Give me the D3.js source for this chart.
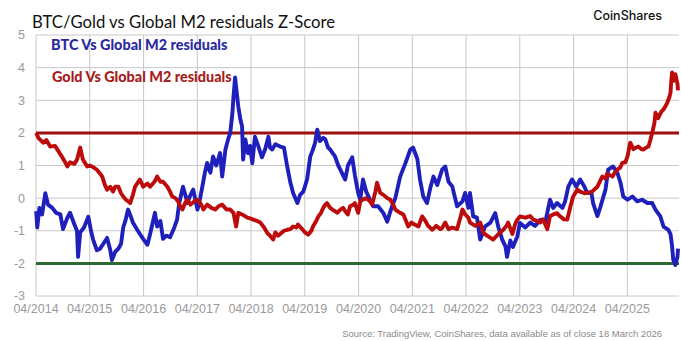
<!DOCTYPE html>
<html><head><meta charset="utf-8">
<script src="https://cdn.jsdelivr.net/npm/d3@7"></script>
<style>html,body{margin:0;padding:0;background:#fff;overflow:hidden}</style>
</head><body><svg id="c" width="681" height="341"></svg>
<script>
// ---- Data (decimal years, z-score values) ----
const btcT = [2014.25,2014.27,2014.31,2014.36,2014.42,2014.47,2014.55,2014.62,2014.70,2014.75,2014.83,2014.88,2014.96,2015.01,2015.03,2015.07,2015.14,2015.22,2015.27,2015.31,2015.38,2015.44,2015.50,2015.57,2015.63,2015.66,2015.72,2015.78,2015.83,2015.87,2015.91,2015.96,2016.02,2016.05,2016.13,2016.18,2016.24,2016.32,2016.37,2016.46,2016.50,2016.56,2016.61,2016.67,2016.74,2016.82,2016.87,2016.91,2016.98,2017.04,2017.06,2017.12,2017.17,2017.25,2017.30,2017.34,2017.39,2017.43,2017.49,2017.54,2017.60,2017.67,2017.71,2017.77,2017.82,2017.86,2017.90,2017.92,2017.95,2017.97,2018.01,2018.05,2018.08,2018.10,2018.14,2018.19,2018.23,2018.27,2018.32,2018.38,2018.45,2018.51,2018.57,2018.60,2018.64,2018.70,2018.79,2018.86,2018.92,2018.98,2019.03,2019.11,2019.16,2019.22,2019.29,2019.35,2019.40,2019.44,2019.48,2019.53,2019.59,2019.63,2019.68,2019.72,2019.81,2019.87,2019.91,2019.96,2020.00,2020.05,2020.13,2020.18,2020.24,2020.28,2020.33,2020.39,2020.46,2020.52,2020.61,2020.71,2020.78,2020.84,2020.87,2020.93,2021.02,2021.12,2021.21,2021.26,2021.34,2021.39,2021.45,2021.52,2021.58,2021.64,2021.71,2021.80,2021.86,2021.92,2021.99,2022.05,2022.08,2022.18,2022.23,2022.29,2022.32,2022.38,2022.45,2022.51,2022.60,2022.70,2022.79,2022.85,2022.92,2022.98,2023.01,2023.07,2023.12,2023.20,2023.25,2023.35,2023.44,2023.53,2023.63,2023.72,2023.81,2023.87,2023.94,2024.04,2024.09,2024.15,2024.22,2024.30,2024.37,2024.45,2024.50,2024.58,2024.61,2024.69,2024.74,2024.84,2024.89,2024.98,2025.06,2025.12,2025.17,2025.25,2025.34,2025.43,2025.52,2025.62,2025.71,2025.77,2025.86,2025.92,2026.01,2026.05,2026.08,2026.10,2026.14,2026.18,2026.19];
const btcZ = [-0.4,-0.9,-0.3,-0.5,0.15,-0.2,-0.3,-0.45,-0.5,-0.95,-0.6,-0.45,-0.8,-1.0,-1.8,-1.05,-0.9,-0.57,-1.0,-1.27,-1.6,-1.55,-1.4,-1.22,-1.6,-1.9,-1.65,-1.55,-1.4,-0.9,-0.7,-0.35,-0.6,-0.75,-0.97,-1.1,-1.25,-1.43,-1.1,-0.45,-0.87,-0.7,-1.25,-1.15,-1.2,-0.9,-0.66,-0.15,0.35,0.0,-0.15,0.1,0.26,-0.35,0.0,0.35,0.8,1.08,0.78,1.28,1.0,1.38,0.66,1.49,1.8,2.0,2.6,3.1,3.7,3.4,2.8,2.4,2.2,1.18,1.8,1.38,1.6,1.07,1.88,1.6,1.25,1.5,1.88,1.55,1.49,1.65,1.58,1.55,0.97,0.47,0.16,-0.15,0.1,0.2,0.57,1.28,1.49,1.7,2.1,1.75,1.85,1.8,1.55,1.49,1.28,1.0,0.87,0.7,0.57,1.0,1.25,0.7,0.16,-0.05,0.57,0.2,-0.05,-0.25,-0.25,-0.46,-0.72,-0.4,-0.25,0.0,0.66,1.08,1.49,1.55,1.2,0.57,0.05,-0.15,0.3,0.66,0.4,0.87,0.97,0.5,0.36,-0.05,-0.25,-0.1,0.16,-0.3,0.16,-0.56,-0.6,-1.27,-0.87,-0.75,-0.46,-0.9,-1.27,-1.48,-1.8,-1.3,-1.5,-1.18,-0.76,-0.9,-0.75,-0.85,-0.66,-0.75,-0.05,-0.3,-0.15,-0.3,-0.1,0.35,0.57,0.35,0.57,0.35,0.16,0.15,-0.15,-0.55,-0.3,0.26,0.87,0.97,0.78,0.47,0.05,-0.05,0.05,-0.1,-0.05,-0.15,-0.15,-0.35,-0.56,-0.87,-0.97,-1.1,-1.48,-1.88,-2.05,-1.8,-1.55];

const goldT = [2014.25,2014.29,2014.38,2014.44,2014.51,2014.60,2014.66,2014.73,2014.79,2014.83,2014.88,2014.96,2015.01,2015.07,2015.12,2015.20,2015.25,2015.31,2015.38,2015.44,2015.48,2015.53,2015.57,2015.63,2015.68,2015.72,2015.78,2015.83,2015.87,2015.92,2016.00,2016.05,2016.09,2016.15,2016.18,2016.24,2016.32,2016.37,2016.45,2016.50,2016.56,2016.61,2016.69,2016.74,2016.78,2016.84,2016.89,2016.93,2016.97,2017.02,2017.06,2017.12,2017.19,2017.26,2017.32,2017.36,2017.43,2017.51,2017.58,2017.64,2017.71,2017.79,2017.86,2017.92,2017.97,2018.01,2018.08,2018.14,2018.18,2018.23,2018.29,2018.36,2018.42,2018.49,2018.55,2018.60,2018.66,2018.70,2018.75,2018.79,2018.86,2018.92,2018.98,2019.03,2019.09,2019.12,2019.20,2019.25,2019.31,2019.37,2019.40,2019.46,2019.50,2019.55,2019.59,2019.63,2019.66,2019.72,2019.76,2019.81,2019.85,2019.91,2019.96,2020.00,2020.05,2020.09,2020.15,2020.18,2020.24,2020.28,2020.32,2020.39,2020.46,2020.50,2020.56,2020.59,2020.65,2020.71,2020.78,2020.84,2020.89,2020.93,2021.02,2021.08,2021.12,2021.17,2021.23,2021.28,2021.36,2021.43,2021.49,2021.54,2021.62,2021.69,2021.77,2021.80,2021.86,2021.92,2021.99,2022.08,2022.14,2022.18,2022.23,2022.29,2022.32,2022.42,2022.51,2022.57,2022.66,2022.75,2022.85,2022.94,2023.00,2023.03,2023.11,2023.16,2023.20,2023.25,2023.35,2023.44,2023.50,2023.57,2023.63,2023.68,2023.76,2023.81,2023.87,2023.94,2023.99,2024.07,2024.13,2024.19,2024.24,2024.32,2024.37,2024.45,2024.50,2024.59,2024.69,2024.78,2024.84,2024.87,2024.97,2025.02,2025.06,2025.12,2025.15,2025.21,2025.25,2025.30,2025.36,2025.41,2025.45,2025.51,2025.54,2025.60,2025.64,2025.67,2025.71,2025.75,2025.77,2025.82,2025.88,2025.92,2025.95,2025.99,2026.03,2026.05,2026.06,2026.08,2026.12,2026.14,2026.18,2026.19];
const goldZ = [2.0,1.85,1.7,1.78,1.58,1.6,1.45,1.27,1.1,0.97,1.1,1.05,1.18,1.55,1.18,0.97,1.0,0.95,0.87,0.75,0.66,0.4,0.26,0.35,0.2,0.35,0.35,0.15,0.05,-0.05,-0.15,0.1,0.35,0.5,0.57,0.35,0.45,0.35,0.5,0.66,0.5,0.5,0.35,0.2,0.05,0.0,-0.1,-0.25,-0.35,-0.15,-0.05,-0.2,-0.1,-0.05,-0.2,-0.35,-0.2,-0.3,-0.35,-0.25,-0.2,-0.35,-0.35,-0.45,-0.87,-0.45,-0.5,-0.56,-0.6,-0.62,-0.66,-0.7,-0.75,-0.9,-1.07,-1.15,-1.27,-1.05,-1.15,-1.1,-1.0,-0.97,-0.95,-0.87,-0.9,-0.81,-0.95,-1.05,-1.12,-1.0,-0.87,-0.7,-0.56,-0.45,-0.3,-0.2,-0.15,-0.3,-0.35,-0.4,-0.45,-0.35,-0.3,-0.4,-0.5,-0.25,-0.2,-0.15,-0.45,-0.1,-0.05,0.0,-0.1,-0.2,0.2,0.47,0.16,0.1,0.0,-0.05,-0.2,-0.35,-0.45,-0.5,-0.66,-0.87,-0.75,-0.8,-0.87,-0.56,-0.7,-0.85,-0.97,-0.85,-0.95,-0.92,-0.75,-0.95,-0.9,-0.95,-0.6,-0.35,-0.5,-0.6,-0.75,-0.85,-0.75,-1.07,-1.17,-1.27,-1.1,-0.97,-0.85,-0.75,-1.1,-0.8,-0.66,-0.56,-0.6,-0.55,-0.66,-0.7,-0.75,-0.65,-0.95,-0.55,-0.5,-0.46,-0.55,-0.65,-0.66,-0.25,0.05,0.26,0.2,0.15,0.16,0.2,0.35,0.66,0.6,0.75,0.66,0.8,0.87,0.95,1.08,1.1,1.28,1.7,1.5,1.55,1.58,1.5,1.49,1.55,1.58,1.75,2.0,2.3,2.62,2.45,2.65,2.72,2.8,2.93,3.1,3.23,3.5,3.85,3.6,3.8,3.5,3.3];

const yTicks = [5,4,3,2,1,0,-1,-2,-3];
const xTickLabels = ["04/2014","04/2015","04/2016","04/2017","04/2018","04/2019","04/2020","04/2021","04/2022","04/2023","04/2024","04/2025"];
const refLines = [{v:2,color:"#a00f0f"},{v:-2,color:"#2d6a31"}];
const seriesNames = ["BTC Vs Global M2 residuals","Gold Vs Global M2 residuals"];
const title = "BTC/Gold vs Global M2 residuals Z-Score";
const source = "Source: TradingView, CoinShares, data available as of close 18 March 2026";

// ---- helpers ----
function decToDate(t){const y=Math.floor(t);const s=Date.UTC(y,0,1),e=Date.UTC(y+1,0,1);return new Date(s+(t-y)*(e-s));}
function parseTick(l){const [m,y]=l.split("/");return new Date(Date.UTC(+y,+m-1,1));}

const svg = d3.select("#c");
const L=36,R=679,T=35,B=296;
const x = d3.scaleUtc().domain([new Date(Date.UTC(2014,3,1)), new Date(Date.UTC(2026,2,18))]).range([L,R]);
const y = d3.scaleLinear().domain([-3,5]).range([B,T]);

// gridlines
const grid = svg.append("g");
grid.selectAll("line.h").data(yTicks).join("line")
  .attr("x1",L).attr("x2",R).attr("y1",d=>y(d)).attr("y2",d=>y(d))
  .attr("stroke","#c8c8c8").attr("stroke-width",1);
grid.selectAll("line.v").data(xTickLabels).join("line")
  .attr("x1",d=>x(parseTick(d))).attr("x2",d=>x(parseTick(d))).attr("y1",T).attr("y2",B)
  .attr("stroke","#c8c8c8").attr("stroke-width",1);

// axis labels
svg.append("g").selectAll("text").data(yTicks).join("text")
  .attr("x",25).attr("y",d=>y(d)).attr("dy","0.35em").attr("text-anchor","end")
  .attr("font-family","Liberation Sans, Arial, sans-serif").attr("font-size",12.5).attr("fill","#9a9a9a")
  .text(d=>d);
svg.append("g").selectAll("text").data(xTickLabels).join("text")
  .attr("x",d=>x(parseTick(d))).attr("y",309).attr("dy","0.35em").attr("text-anchor","middle")
  .attr("font-family","Liberation Sans, Arial, sans-serif").attr("font-size",12.5).attr("fill","#9a9a9a")
  .text(d=>d);

// reference lines
svg.append("g").selectAll("line").data(refLines).join("line")
  .attr("x1",L).attr("x2",R).attr("y1",d=>y(d.v)).attr("y2",d=>y(d.v))
  .attr("stroke",d=>d.color).attr("stroke-width",3);

// series
const line = d3.line().x(d=>x(decToDate(d[0]))).y(d=>y(d[1])).curve(d3.curveLinear);
const btc = btcT.map((t,i)=>[t,btcZ[i]]);
const gold = goldT.map((t,i)=>[t,goldZ[i]]);
svg.append("path").datum(btc).attr("d",line).attr("fill","none")
  .attr("stroke","#1f1fbb").attr("stroke-width",3.9).attr("stroke-linejoin","round");
svg.append("path").datum(gold).attr("d",line).attr("fill","none")
  .attr("stroke","#bd0a0a").attr("stroke-width",3.9).attr("stroke-linejoin","round");

// legend labels
svg.append("text").attr("x",51).attr("y",50).attr("font-family","Lato, sans-serif").attr("font-weight",900)
  .attr("font-size",14.4).attr("fill","#2a2a9e").text(seriesNames[0]);
svg.append("text").attr("x",52).attr("y",82).attr("font-family","Lato, sans-serif").attr("font-weight",900)
  .attr("font-size",14.4).attr("fill","#a81c1c").text(seriesNames[1]);

// title, brand, source
svg.append("text").attr("x",32).attr("y",28).attr("font-family","Lato, sans-serif")
  .attr("font-size",16.7).attr("fill","#111").text(title);
svg.append("text").attr("x",662).attr("y",20).attr("text-anchor","end").attr("font-family","Inter, sans-serif")
  .attr("font-weight",500).attr("font-size",12.5).attr("fill","#111").text("CoinShares");
svg.append("text").attr("x",662).attr("y",337).attr("text-anchor","end").attr("font-family","Liberation Sans, Arial, sans-serif")
  .attr("font-size",9.5).attr("fill","#8a8a8a").text(source);
</script></body></html>
